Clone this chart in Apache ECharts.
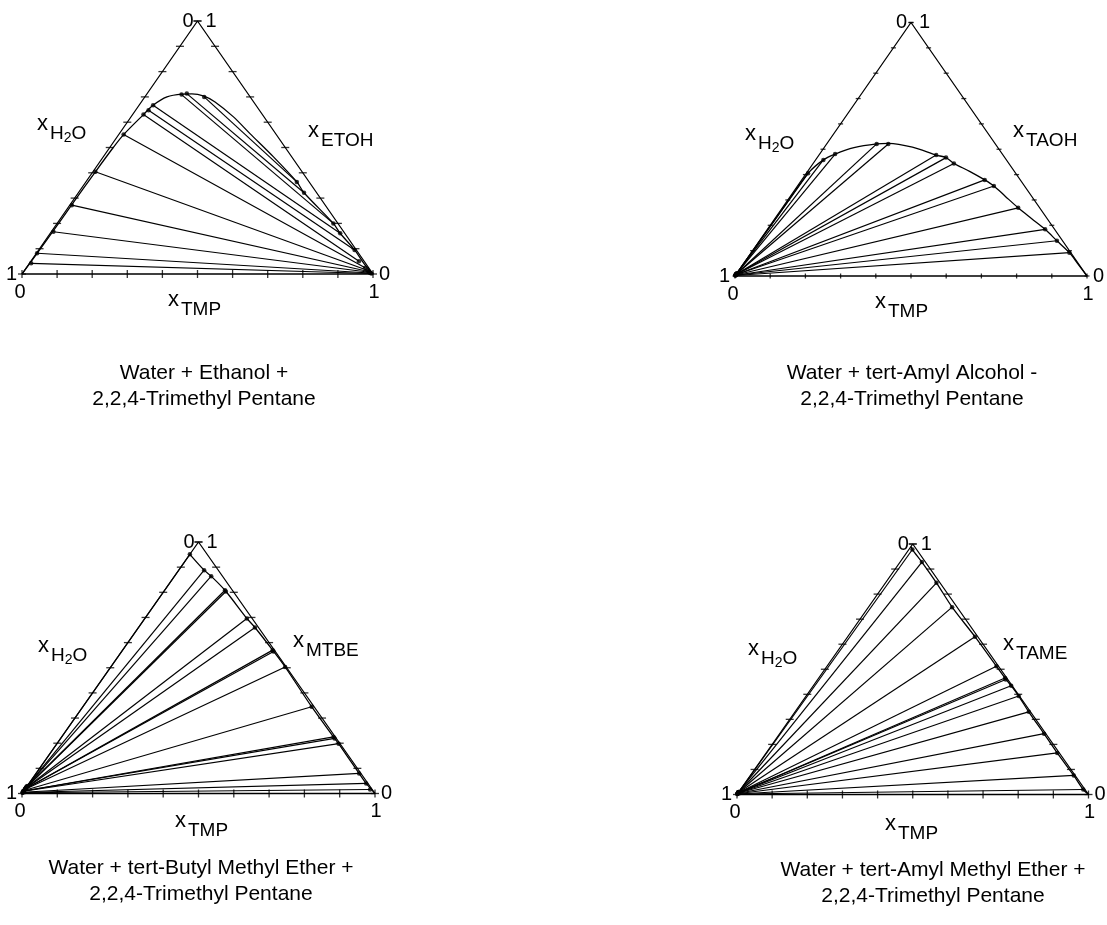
<!DOCTYPE html>
<html>
<head>
<meta charset="utf-8">
<script src="https://cdn.jsdelivr.net/npm/echarts@6/dist/echarts.min.js"></script>
<style>
  html, body { margin: 0; padding: 0; background: #fff; }
  #chart { width: 1107px; height: 925px; }
</style>
</head>
<body>
<div id="chart"></div>
<script>
// Compositions are [x_TMP, x_solvent]; x_H2O = 1 - x_TMP - x_solvent.

// Water + Ethanol + 2,2,4-Trimethyl Pentane
const etohAqueous = [[0.005,0.042],[0.002,0.082],[0.006,0.167],[0.006,0.272],[0.007,0.404],[0.014,0.551],
                     [0.031,0.630],[0.037,0.647],[0.040,0.667],[0.100,0.709],[0.113,0.713],[0.169,0.700]];
const etohOrganic = [[0.995,0.002],[0.990,0.004],[0.986,0.007],[0.982,0.010],[0.976,0.015],[0.965,0.025],
                     [0.935,0.050],[0.900,0.095],[0.826,0.161],[0.787,0.200],[0.643,0.321],[0.601,0.364]];
const etohBinodal = [[0,0],[0.002,0.080],[0.004,0.170],[0.005,0.270],[0.007,0.400],[0.010,0.500],[0.014,0.551],
                     [0.031,0.630],[0.040,0.667],[0.063,0.700],[0.100,0.711],[0.128,0.712],[0.167,0.703],
                     [0.210,0.680],[0.292,0.621],[0.372,0.555],[0.485,0.463],[0.601,0.364],[0.643,0.321],
                     [0.787,0.200],[0.826,0.161],[0.900,0.095],[0.955,0.040],[1,0]];

// Water + tert-Amyl Alcohol + 2,2,4-Trimethyl Pentane
const taohAqueous = [[0,0.010],[0,0.010],[0,0.009],[0,0.008],[0,0.008],[0,0.007],[0,0.006],
                     [0,0.006],[0,0.005],[0,0.005],[0,0.004],[0,0.003],[0,0.003],[0,0.002]];
const taohOrganic = [[0.005,0.405],[0.022,0.458],[0.044,0.481],[0.142,0.521],[0.175,0.521],[0.333,0.477],
                     [0.366,0.467],[0.400,0.444],[0.520,0.379],[0.558,0.355],[0.670,0.269],[0.789,0.184],
                     [0.845,0.139],[0.904,0.092]];
const taohBinodal = [[0,0.004],[0.001,0.100],[0.002,0.200],[0.003,0.300],[0.005,0.405],[0.022,0.458],
                     [0.044,0.481],[0.085,0.506],[0.142,0.521],[0.175,0.523],[0.250,0.508],[0.333,0.477],
                     [0.366,0.467],[0.400,0.444],[0.460,0.413],[0.520,0.379],[0.558,0.355],[0.610,0.315],
                     [0.670,0.269],[0.730,0.226],[0.789,0.184],[0.845,0.139],[0.904,0.092],[0.950,0.048],[1,0]];

// Water + tert-Butyl Methyl Ether + 2,2,4-Trimethyl Pentane
const mtbeAqueous = [[0,0.030],[0,0.028],[0,0.026],[0,0.025],[0,0.024],[0,0.022],[0,0.020],[0,0.018],
                     [0,0.018],[0,0.016],[0,0.012],[0,0.010],[0,0.010],[0,0.009],[0,0.005],[0,0.004],[0,0.003]];
const mtbeOrganic = [[0,0.951],[0.072,0.888],[0.104,0.864],[0.171,0.808],[0.176,0.803],[0.289,0.696],
                     [0.330,0.660],[0.425,0.570],[0.430,0.565],[0.494,0.503],[0.648,0.345],[0.770,0.225],
                     [0.776,0.219],[0.798,0.198],[0.915,0.080],[0.955,0.040],[0.978,0.016]];
const mtbeBinodal = [[0,0.951],[0.072,0.888],[0.104,0.864],[0.171,0.808],[0.289,0.696],[0.330,0.660],
                     [0.425,0.570],[0.494,0.503],[0.648,0.345],[0.770,0.225],[0.798,0.198],[0.915,0.080],
                     [0.955,0.040],[1,0]];

// Water + tert-Amyl Methyl Ether + 2,2,4-Trimethyl Pentane
const tameAqueous = [[0,0.010],[0,0.010],[0,0.009],[0,0.009],[0,0.008],[0,0.007],[0,0.006],[0,0.006],
                     [0,0.006],[0,0.005],[0,0.005],[0,0.004],[0,0.003],[0,0.002],[0,0.002]];
const tameOrganic = [[0.010,0.978],[0.062,0.928],[0.145,0.845],[0.238,0.748],[0.362,0.630],[0.482,0.512],
                     [0.530,0.465],[0.535,0.459],[0.563,0.434],[0.605,0.393],[0.665,0.330],[0.752,0.243],
                     [0.828,0.166],[0.920,0.076],[0.975,0.020]];
const tameBinodal = [[0,0.990],[0.010,0.978],[0.062,0.928],[0.145,0.845],[0.238,0.748],[0.362,0.630],
                     [0.482,0.512],[0.530,0.465],[0.563,0.434],[0.605,0.393],[0.665,0.330],[0.752,0.243],
                     [0.828,0.166],[0.920,0.076],[0.975,0.020],[1,0]];

// Edge ticks every 0.1 mole fraction, and the end values written at each corner
const tickValues = [0, 0.1, 0.2, 0.3, 0.4, 0.5, 0.6, 0.7, 0.8, 0.9, 1];
const cornerLabels = { low: '0', high: '1' };

// Axis-name subscripts: plain pieces and the smaller digit inside H2O
const waterName = [['H', false], ['2', true], ['O', false]];
const solventNames = ['ETOH', 'TAOH', 'MTBE', 'TAME'];
const baseName = 'TMP';
const titles = [
  'Water + Ethanol +\n2,2,4-Trimethyl Pentane',
  'Water + tert-Amyl Alcohol -\n2,2,4-Trimethyl Pentane',
  'Water + tert-Butyl Methyl Ether +\n2,2,4-Trimethyl Pentane',
  'Water + tert-Amyl Methyl Ether +\n2,2,4-Trimethyl Pentane'
];
const systems = [
  { aq: etohAqueous, org: etohOrganic, bin: etohBinodal },
  { aq: taohAqueous, org: taohOrganic, bin: taohBinodal },
  { aq: mtbeAqueous, org: mtbeOrganic, bin: mtbeBinodal },
  { aq: tameAqueous, org: tameOrganic, bin: tameBinodal }
];

// Page layout of the four triangles and their labels ([left of the x glyph, its vertical centre])
const layouts = [
  { grid: { left: 22,  top: 21,   width: 351,   height: 253 },   tick: 8, lbl: [37, 124],  rlbl: [308, 131],  blbl: [168, 300], title: [204, 360] },
  { grid: { left: 735, top: 22.5, width: 352,   height: 253.5 }, tick: 5, lbl: [745, 134], rlbl: [1013, 131], blbl: [875, 302], title: [912, 360] },
  { grid: { left: 22,  top: 542,  width: 353,   height: 251.5 }, tick: 8, lbl: [38, 646],  rlbl: [293, 641],  blbl: [175, 821], title: [201, 855] },
  { grid: { left: 737, top: 544,  width: 351.5, height: 250.5 }, tick: 8, lbl: [748, 649], rlbl: [1003, 644], blbl: [885, 824], title: [933, 857] }
];

const FONT = '"Liberation Sans", Arial, Helvetica, sans-serif';
const INK = '#000';
const X_FONT = '22px ' + FONT, SUB_FONT = '19px ' + FONT, DIGIT_FONT = '14px ' + FONT;
const SUB_DROP = 10, DIGIT_DROP = 4;

const measureCtx = document.createElement('canvas').getContext('2d');
const textWidth = (txt, font) => { measureCtx.font = font; return measureCtx.measureText(txt).width; };

// Ternary composition -> plotting plane (x_TMP along the base, solvent towards the apex)
const toXY = p => [p[0] + p[1] / 2, p[1]];

const grids = [], xAxes = [], yAxes = [], series = [], graphics = [];

const textEl = (txt, x, y, font, align) => ({
  type: 'text', x: x, y: y, silent: true,
  style: { text: txt, font: font, fill: INK, textFill: INK,
           align: align, textAlign: align, verticalAlign: 'middle', textVerticalAlign: 'middle' }
});

// "x" followed by a lowered subscript made of pieces [text, isSmallDigit]
function axisName(pos, pieces) {
  const x0 = pos[0], yc = pos[1];
  graphics.push(textEl('x', x0, yc, X_FONT, 'left'));
  let cx = x0 + textWidth('x', X_FONT) + 2;
  pieces.forEach(([txt, small]) => {
    const font = small ? DIGIT_FONT : SUB_FONT;
    graphics.push(textEl(txt, cx, yc + SUB_DROP + (small ? DIGIT_DROP : 0), font, 'left'));
    cx += textWidth(txt, font);
  });
}

layouts.forEach((L, i) => {
  grids.push(Object.assign({ containLabel: false }, L.grid));
  xAxes.push({ gridIndex: i, type: 'value', min: 0, max: 1, show: false });
  yAxes.push({ gridIndex: i, type: 'value', min: 0, max: 1, show: false });
  const ax = { xAxisIndex: i, yAxisIndex: i };
  const sys = systems[i];

  // triangle frame
  series.push(Object.assign({
    type: 'line', data: [[0, 0], [1, 0], [0, 1], [0, 0]].map(toXY),
    symbol: 'none', clip: false, silent: true,
    lineStyle: { color: INK, width: 1.3 }
  }, ax));

  // ticks on the two slanted edges (drawn level) and on the base (drawn upright)
  const slanted = tickValues.map(v => toXY([0, v])).concat(tickValues.map(v => toXY([1 - v, v])));
  series.push(Object.assign({
    type: 'scatter', data: slanted, symbol: 'rect', symbolSize: [L.tick, 1.3],
    clip: false, silent: true, itemStyle: { color: INK }
  }, ax));
  series.push(Object.assign({
    type: 'scatter', data: tickValues.map(v => toXY([v, 0])), symbol: 'rect', symbolSize: [1.3, L.tick],
    clip: false, silent: true, itemStyle: { color: INK }
  }, ax));

  // binodal curve
  series.push(Object.assign({
    type: 'line', data: sys.bin.map(toXY), smooth: 0.3, symbol: 'none', clip: false, silent: true,
    lineStyle: { color: INK, width: 1.3 }
  }, ax));

  // tie lines
  series.push(Object.assign({
    type: 'lines', coordinateSystem: 'cartesian2d', clip: false, silent: true,
    data: sys.aq.map((a, k) => ({ coords: [toXY(a), toXY(sys.org[k])] })),
    lineStyle: { color: INK, width: 1.2, opacity: 1 }
  }, ax));

  // measured phase compositions
  series.push(Object.assign({
    type: 'scatter', data: sys.aq.concat(sys.org).map(toXY), symbol: 'circle', symbolSize: 4.5,
    clip: false, silent: true, itemStyle: { color: INK }
  }, ax));

  // corner values
  const g = L.grid;
  const bl = [g.left, g.top + g.height], br = [g.left + g.width, g.top + g.height], tp = [g.left + g.width / 2, g.top];
  const NUM = '20px ' + FONT;
  graphics.push(textEl(cornerLabels.high, bl[0] - 5, bl[1], NUM, 'right'));
  graphics.push(textEl(cornerLabels.low, bl[0] - 2, bl[1] + 18, NUM, 'center'));
  graphics.push(textEl(cornerLabels.low, br[0] + 6, br[1], NUM, 'left'));
  graphics.push(textEl(cornerLabels.high, br[0] + 1, br[1] + 18, NUM, 'center'));
  graphics.push(textEl(cornerLabels.low, tp[0] - 4, tp[1], NUM, 'right'));
  graphics.push(textEl(cornerLabels.high, tp[0] + 8, tp[1], NUM, 'left'));

  // axis names x_H2O, x_solvent, x_TMP
  axisName(L.lbl, waterName);
  axisName(L.rlbl, [[solventNames[i], false]]);
  axisName(L.blbl, [[baseName, false]]);

  // system title
  graphics.push({
    type: 'text', x: L.title[0], y: L.title[1], silent: true,
    style: { text: titles[i], font: '21px ' + FONT, fill: INK, textFill: INK, lineHeight: 26, textLineHeight: 26,
             align: 'center', textAlign: 'center', verticalAlign: 'top', textVerticalAlign: 'top' }
  });
});

const chart = echarts.init(document.getElementById('chart'), null, { renderer: 'canvas' });
chart.setOption({
  animation: false,
  backgroundColor: '#fff',
  grid: grids,
  xAxis: xAxes,
  yAxis: yAxes,
  series: series,
  graphic: { elements: graphics }
});
</script>
</body>
</html>
